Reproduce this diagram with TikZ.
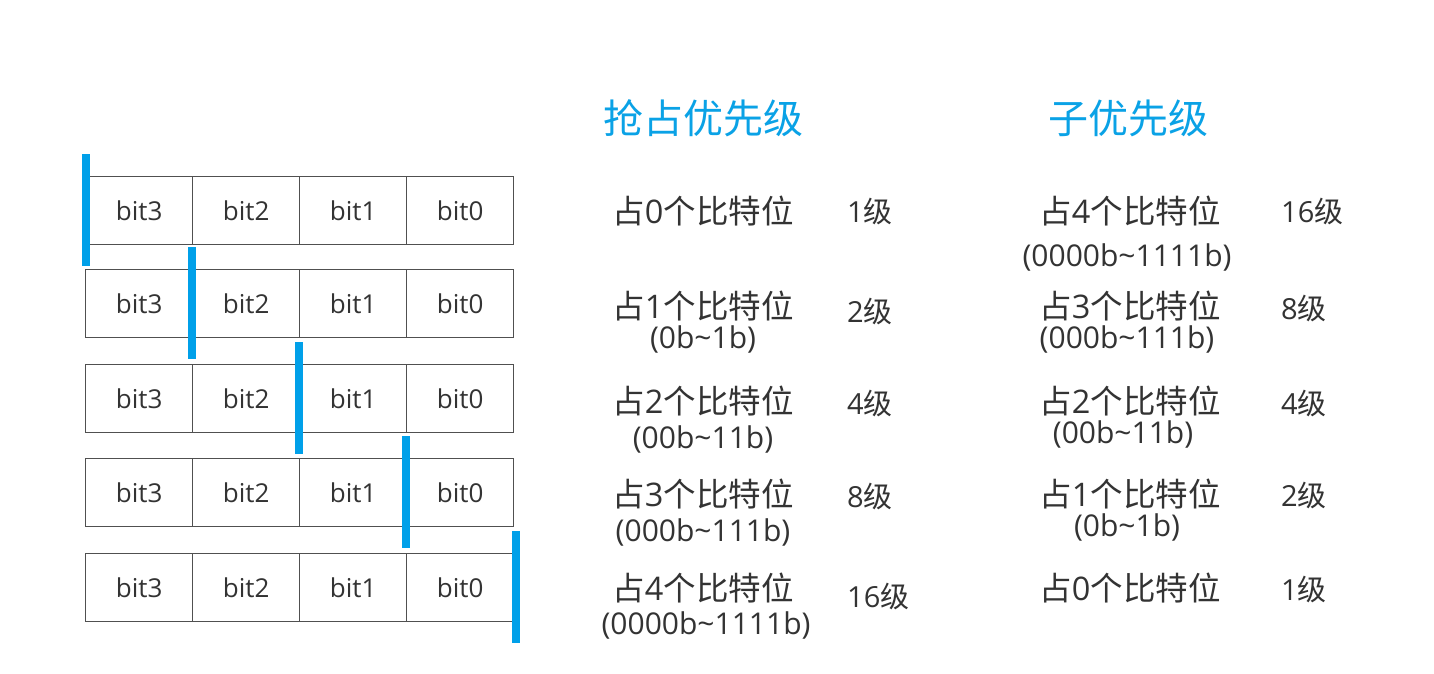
\documentclass[tikz,border=0pt]{standalone}
\usepackage{fontspec}
\setmainfont{Open Sans}
\newfontfamily\cjk{Noto Sans CJK SC}
\newcommand\zh[1]{{\cjk #1}}
\definecolor{txt}{HTML}{333333}
\definecolor{barblue}{HTML}{00A0E9}
\definecolor{ttl}{HTML}{0AA2E6}
\definecolor{edge}{HTML}{505050}
\tikzset{
  cell/.style={draw=edge, line width=1.4pt, rectangle, minimum width=107pt, minimum height=68pt, inner sep=0pt, anchor=north west, text=txt, font=\fontsize{26}{30}\selectfont},
  bar/.style={fill=barblue, draw=none, rectangle, minimum width=8pt, minimum height=112pt, inner sep=0pt},
  ttlstyle/.style={text=ttl, font=\fontsize{40}{46}\selectfont\cjk, anchor=base, inner sep=0pt},
  main/.style={text=txt, font=\fontsize{32.5}{36}\selectfont, anchor=base, inner sep=0pt},
  paren/.style={text=txt, font=\fontsize{30}{34}\selectfont, anchor=base, inner sep=0pt},
  lvl/.style={text=txt, font=\fontsize{29}{32}\selectfont, anchor=base west, inner sep=0pt}
}
\begin{document}
\begin{tikzpicture}[x=1pt,y=-1pt]
\useasboundingbox (0,0) rectangle (1434,674);
\fill[white] (0,0) rectangle (1434,674);
% bit rows
\foreach \r/\top in {1/176,2/269,3/364,4/458,5/553}{
  \node[cell] (c\r3) at (85,\top) {bit3};
  \node[cell] (c\r2) at (192,\top) {bit2};
  \node[cell] (c\r1) at (299,\top) {bit1};
  \node[cell] (c\r0) at (406,\top) {bit0};
}
% blue separators
\node[bar] (b1) at (86,210) {};
\node[bar] (b2) at (192,303) {};
\node[bar] (b3) at (299,398) {};
\node[bar] (b4) at (406,492) {};
\node[bar] (b5) at (516,587) {};
% titles
\node[ttlstyle] (t1) at (703,134) {抢占优先级};
\node[ttlstyle] (t2) at (1128,134) {子优先级};
% preemption column
\node[main] (p0) at (703,223) {\zh{占}0\zh{个比特位}};
\node[lvl] (pl0) at (847,222) {1\zh{级}};
\node[main] (p1) at (703,318) {\zh{占}1\zh{个比特位}};
\node[paren] (pp1) at (703,348) {(0b\textasciitilde1b)};
\node[lvl] (pl1) at (847,322) {2\zh{级}};
\node[main] (p2) at (703,413) {\zh{占}2\zh{个比特位}};
\node[paren] (pp2) at (703,448) {(00b\textasciitilde11b)};
\node[lvl] (pl2) at (847,414) {4\zh{级}};
\node[main] (p3) at (703,506) {\zh{占}3\zh{个比特位}};
\node[paren] (pp3) at (703,541) {(000b\textasciitilde111b)};
\node[lvl] (pl3) at (847,507) {8\zh{级}};
\node[main] (p4) at (703,600) {\zh{占}4\zh{个比特位}};
\node[paren] (pp4) at (706,634) {(0000b\textasciitilde1111b)};
\node[lvl] (pl4) at (847,607) {16\zh{级}};
% sub-priority column
\node[main] (s4) at (1130,223) {\zh{占}4\zh{个比特位}};
\node[paren] (sp4) at (1127,266) {(0000b\textasciitilde1111b)};
\node[lvl] (sl4) at (1281,222) {16\zh{级}};
\node[main] (s3) at (1130,318) {\zh{占}3\zh{个比特位}};
\node[paren] (sp3) at (1127,348) {(000b\textasciitilde111b)};
\node[lvl] (sl3) at (1281,319) {8\zh{级}};
\node[main] (s2) at (1130,413) {\zh{占}2\zh{个比特位}};
\node[paren] (sp2) at (1123,443) {(00b\textasciitilde11b)};
\node[lvl] (sl2) at (1281,414) {4\zh{级}};
\node[main] (s1) at (1130,506) {\zh{占}1\zh{个比特位}};
\node[paren] (sp1) at (1127,536) {(0b\textasciitilde1b)};
\node[lvl] (sl1) at (1281,506) {2\zh{级}};
\node[main] (s0) at (1130,600) {\zh{占}0\zh{个比特位}};
\node[lvl] (sl0) at (1281,600) {1\zh{级}};
\end{tikzpicture}
\end{document}
